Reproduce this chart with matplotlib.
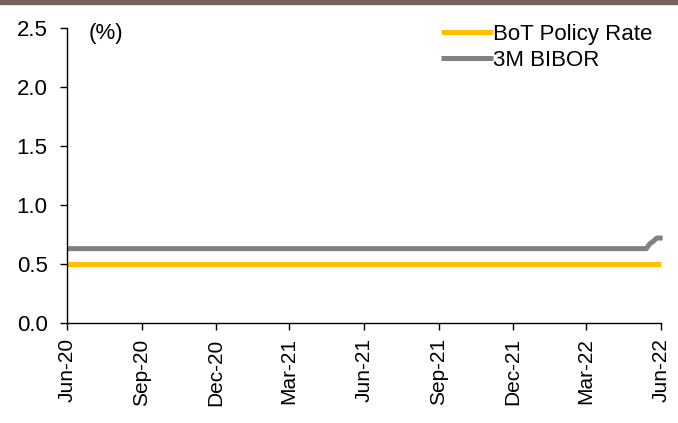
import matplotlib
matplotlib.use("Agg")
import matplotlib.pyplot as plt
import pandas as pd

plt.rcParams['font.family'] = ['Liberation Sans', 'DejaVu Sans']

policy_dates = ["2020-06-01", "2022-06-01"]
policy_values = [0.50, 0.50]

bibor_dates = ["2020-06-01", "2022-05-14", "2022-05-18", "2022-05-22", "2022-05-27", "2022-06-03"]
bibor_values = [0.63, 0.63, 0.67, 0.69, 0.72, 0.72]

tick_dates = ["2020-06-01", "2020-09-01", "2020-12-01", "2021-03-01", "2021-06-01",
              "2021-09-01", "2021-12-01", "2022-03-01", "2022-06-01"]
tick_labels = ["Jun-20", "Sep-20", "Dec-20", "Mar-21", "Jun-21",
               "Sep-21", "Dec-21", "Mar-22", "Jun-22"]

fig = plt.figure(figsize=(6.78, 4.23), dpi=100)
ax = fig.add_axes([67/678, 1-323/423, (661-67)/678, (323-28)/423])

ax.plot(pd.to_datetime(policy_dates), policy_values, color='#FFC000', lw=3.6,
        label='BoT Policy Rate', solid_capstyle='butt')
ax.plot(pd.to_datetime(bibor_dates), bibor_values, color='#808080', lw=3.6,
        label='3M BIBOR', solid_capstyle='butt')

ax.set_ylim(0, 2.5)
ax.set_yticks([0, 0.5, 1.0, 1.5, 2.0, 2.5])
ax.set_yticklabels(["0.0", "0.5", "1.0", "1.5", "2.0", "2.5"])
ax.set_xlim(pd.Timestamp("2020-06-01"), pd.Timestamp("2022-06-01"))
ax.set_xticks(pd.to_datetime(tick_dates))
ax.set_xticklabels(tick_labels, rotation=90)
ax.tick_params(axis='both', labelsize=16, direction='out', length=5, width=1, color='black')
ax.tick_params(axis='x', labelsize=15, pad=6)
ax.tick_params(axis='y', pad=9)
for s in ['top', 'right']:
    ax.spines[s].set_visible(False)
for s in ['left', 'bottom']:
    ax.spines[s].set_color('black')
    ax.spines[s].set_linewidth(1)
for l in ax.lines:
    l.set_clip_on(False)

ax.text(0.037, 0.983, "(%)", transform=ax.transAxes, fontsize=16, va='center', ha='left')

leg = ax.legend(loc='upper right', bbox_to_anchor=(1.0, 1.045), frameon=False, fontsize=16,
                handlelength=2.35, handletextpad=0.0, labelspacing=0.25, borderaxespad=0.0)

fig.patches.append(plt.Rectangle((0, 1-4/423), 1, 4/423, transform=fig.transFigure,
                                 color='#75625E', zorder=10))

fig.savefig("out.png", dpi=100)
